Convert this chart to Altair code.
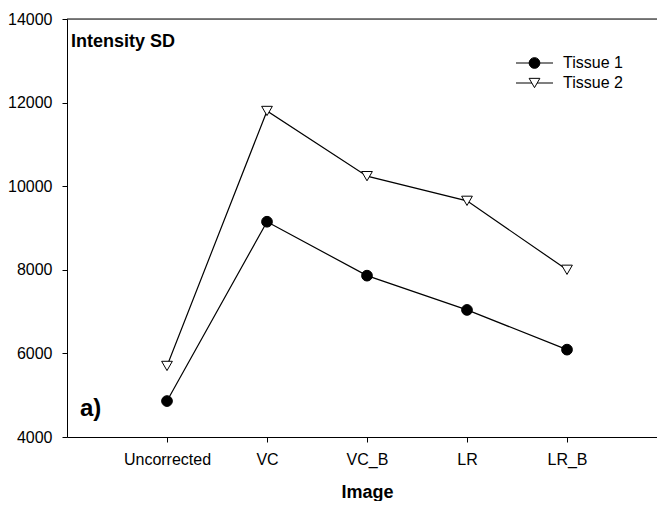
import altair as alt
import pandas as pd

images = ["Uncorrected", "VC", "VC_B", "LR", "LR_B"]
tissue1 = [4860, 9150, 7860, 7040, 6090]
tissue2 = [5700, 11800, 10240, 9650, 8000]
series_names = ["Tissue 1", "Tissue 2"]
series_shapes = ["circle", "triangle-down"]
series_fills = ["black", "white"]

rows = []
for name, vals in zip(series_names, [tissue1, tissue2]):
    for img, v in zip(images, vals):
        rows.append({"Image": img, "value": v, "series": name})
df = pd.DataFrame(rows)

FONT = "Liberation Sans"
W, H = 590, 418

x_enc = alt.X("Image:N", sort=images,
              scale=alt.Scale(type="point", padding=0.95, align=100 / 190),
              axis=alt.Axis(title="Image", labelAngle=0, labelFontSize=16,
                            labelFont=FONT, labelColor="black",
                            titleFont=FONT, titleFontSize=18, titleFontWeight="bold",
                            titleColor="black", titlePadding=16, labelPadding=9,
                            tickSize=5, tickColor="black", domainColor="black",
                            grid=False, titleX=300, titleAnchor="middle"))
y_enc = alt.Y("value:Q",
              scale=alt.Scale(domain=[4000, 14000], nice=False, zero=False),
              axis=alt.Axis(title=None, values=[4000, 6000, 8000, 10000, 12000, 14000],
                            format="d", labelFontSize=16, labelFont=FONT,
                            labelColor="black", labelPadding=10, tickSize=5,
                            tickColor="black", domainColor="black", grid=False))

base = alt.Chart(df)

lines = base.mark_line(color="black", strokeWidth=1.2).encode(
    x=x_enc, y=y_enc, detail="series:N")

points = base.mark_point(stroke="black", strokeWidth=1, opacity=1, size=115, filled=False).encode(
    x=x_enc, y=y_enc,
    shape=alt.Shape("series:N", scale=alt.Scale(domain=series_names, range=series_shapes), legend=None),
    fill=alt.Fill("series:N", scale=alt.Scale(domain=series_names, range=series_fills), legend=None),
)

top_line = alt.Chart(pd.DataFrame({"t": [14000]})).mark_rule(color="black", strokeWidth=1).encode(
    y=alt.Y("t:Q", scale=alt.Scale(domain=[4000, 14000], nice=False)),
    x=alt.value(0), x2=alt.value(W))

# manual legend (line through symbol, then label)
legend_layers = []
for i, (name, shp, fil) in enumerate(zip(series_names, series_shapes, series_fills)):
    ly = 44 + 20 * i
    ldf = pd.DataFrame({"name": [name]})
    lb = alt.Chart(ldf)
    legend_layers.append(lb.mark_rule(color="black", strokeWidth=1.2).encode(
        x=alt.value(449), x2=alt.value(486), y=alt.value(ly)))
    legend_layers.append(lb.mark_point(shape=shp, fill=fil, stroke="black", strokeWidth=1,
                                       size=115, opacity=1).encode(
        x=alt.value(467.5), y=alt.value(ly)))
    legend_layers.append(lb.mark_text(font=FONT, fontSize=16, align="left", baseline="middle",
                                      color="black").encode(
        text="name:N", x=alt.value(496), y=alt.value(ly)))

title_txt = alt.Chart(pd.DataFrame({"t": ["Intensity SD"]})).mark_text(
    font=FONT, fontSize=18, fontWeight="bold", align="left", baseline="alphabetic", color="black"
).encode(text="t:N", x=alt.value(4), y=alt.value(28))

panel_txt = alt.Chart(pd.DataFrame({"t": ["a)"]})).mark_text(
    font=FONT, fontSize=24, fontWeight="bold", align="left", baseline="alphabetic", color="black"
).encode(text="t:N", x=alt.value(13), y=alt.value(397))

chart = alt.layer(top_line, lines, points, *legend_layers, title_txt, panel_txt).resolve_scale(
    shape="independent", fill="independent"
).properties(
    width=W, height=H,
    autosize=alt.AutoSizeParams(type="none"),
    padding={"left": 59, "top": 11, "right": 0, "bottom": 64},
).configure_view(stroke=None).configure(background="white")

chart.save("out.html", embed_options={"renderer": "svg", "actions": False})
